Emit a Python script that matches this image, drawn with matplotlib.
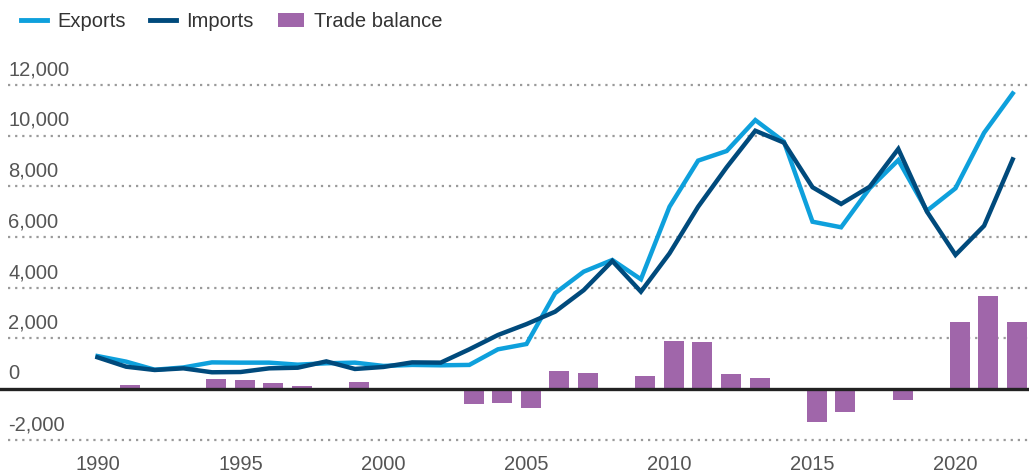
import numpy as np
import matplotlib
matplotlib.use("Agg")
from matplotlib import pyplot as plt
from matplotlib.lines import Line2D
from matplotlib.patches import Patch

plt.rcParams['font.family'] = ['Liberation Sans', 'DejaVu Sans']

years = list(range(1990, 2023))
exports = [1300, 1080, 760, 850, 1050, 1040, 1040, 960, 1015, 1040,
           910, 950, 935, 950, 1565, 1775, 3780, 4630, 5090, 4330,
           7190, 9010, 9390, 10610, 9760, 6600, 6380, 7920, 9030, 7030,
           7920, 10110, 11660]
imports = [1250, 880, 750, 815, 660, 670, 815, 840, 1090, 790,
           870, 1050, 1040, 1565, 2130, 2560, 3050, 3900, 5050, 3840,
           5350, 7190, 8750, 10190, 9720, 7960, 7300, 7980, 9470, 7000,
           5290, 6440, 9060]
balance = [40, 160, 0, 30, 390, 350, 240, 120, -40, 280,
           30, -30, -90, -600, -540, -750, 710, 630, 30, 510,
           1890, 1850, 590, 430, 30, -1300, -910, -40, -430, -80,
           2640, 3670, 2640]
y_ticks = [-2000, 0, 2000, 4000, 6000, 8000, 10000, 12000]
x_ticks = [1990, 1995, 2000, 2005, 2010, 2015, 2020]

c_exp = '#0ea0dc'
c_imp = '#004a7c'
c_bal = '#a066aa'
c_txt = '#555555'

fig = plt.figure(figsize=(10.29, 4.76), dpi=100)
ax = fig.add_axes([0, 0.039, 1, 0.836])

yrs = np.array(years)
ax.bar(yrs + 0.15, balance, width=0.7, color=c_bal, zorder=2)

for v in y_ticks:
    if v != 0:
        ax.axhline(v, xmin=0.008, xmax=1, color='#9a9a9a', lw=1.6,
                   linestyle=(0, (1, 2.2)), zorder=1)
    ax.annotate(f'{v:,}', xy=(0.008, v), xycoords=('axes fraction', 'data'),
                xytext=(0, 4), textcoords='offset points', ha='left', va='bottom',
                fontsize=14.5, color=c_txt)
ax.axhline(0, color='#cccccc', lw=1.2, zorder=3)
ax.axhline(0, color='#222222', lw=2.4, zorder=3)

ax.plot(yrs, exports, color=c_exp, lw=3.2, zorder=4, solid_joinstyle='miter')
ax.plot(yrs, imports, color=c_imp, lw=3.2, zorder=5, solid_joinstyle='miter')

ax.set_xlim(1986.59, 2022.57)
ax.set_ylim(-2700, 13000)
ax.set_yticks([])
ax.set_xticks(x_ticks)
ax.set_xticklabels([str(x) for x in x_ticks], fontsize=14.5, color=c_txt)
ax.tick_params(axis='x', length=0, pad=-2)
for s in ax.spines.values():
    s.set_visible(False)

handles = [Line2D([], [], color=c_exp, lw=3.5),
           Line2D([], [], color=c_imp, lw=3.5),
           Patch(facecolor=c_bal)]
fig.legend(handles, ['Exports', 'Imports', 'Trade balance'], loc='upper left',
           bbox_to_anchor=(0.003, 1.012), ncol=3, frameon=False, fontsize=14.5,
           handlelength=1.3, handletextpad=0.5, columnspacing=1.2,
           labelcolor='#333333')

fig.savefig('out.png', dpi=100)
